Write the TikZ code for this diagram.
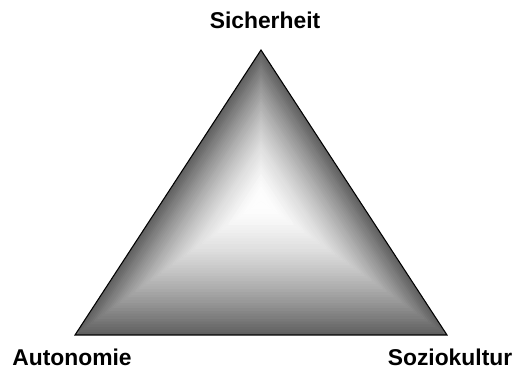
\documentclass[tikz,border=0pt]{standalone}
\usepackage{fontspec}
\setmainfont{Liberation Sans}
\usetikzlibrary{calc}
\definecolor{edgegray}{HTML}{606060}

\begin{document}
\begin{tikzpicture}[corner/.style={font=\bfseries\fontsize{13}{15}\selectfont, inner sep=0pt}]
  \useasboundingbox (0,0) rectangle (10.3,7.42);
  \coordinate (apex) at (5.22,6.42);
  \coordinate (left) at (1.50,0.72);
  \coordinate (right) at (8.94,0.72);
  \coordinate (mid) at (5.22,3.40);
  % three faces, each fading from its edge to the white middle
  \foreach \t in {0,0.02,...,0.98} {
    \pgfmathtruncatemacro\w{round(100*(1-(1-\t)^1.6))}
    \fill[white!\w!edgegray] ($(left)!\t!(mid)$) -- ($(right)!\t!(mid)$) -- (mid) -- cycle;
    \fill[white!\w!edgegray] ($(left)!\t!(mid)$) -- ($(apex)!\t!(mid)$) -- (mid) -- cycle;
    \fill[white!\w!edgegray] ($(right)!\t!(mid)$) -- ($(apex)!\t!(mid)$) -- (mid) -- cycle;
  }
  \draw[line width=0.6pt] (apex) -- (left) -- (right) -- cycle;
  \node[corner] (sicherheit) at (5.30,7.02) {Sicherheit};
  \node[corner] (autonomie) at (1.44,0.28) {Autonomie};
  \node[corner] (soziokultur) at (9.00,0.28) {Soziokultur};
\end{tikzpicture}
\end{document}
